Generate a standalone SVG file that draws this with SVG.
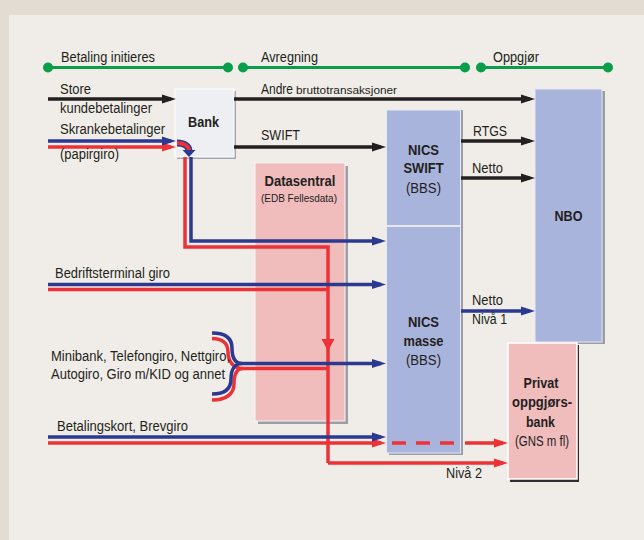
<svg xmlns="http://www.w3.org/2000/svg" width="644" height="540" viewBox="0 0 644 540">
<style>
text{font-family:"Liberation Sans",Arial,sans-serif;fill:#231f20;font-size:14px}
.b{font-weight:bold}
.s{font-size:11px}
.k{fill:none;stroke:#231f20;stroke-width:3.5}
.bl{fill:none;stroke:#2b3990;stroke-width:3.5}
.rd{fill:none;stroke:#ed3237;stroke-width:3.5}
.gr{fill:none;stroke:#0a9e4a;stroke-width:3}
.dot{fill:#0a9e4a}
.ka{marker-end:url(#ak)}
.ba{marker-end:url(#ab)}
.ra{marker-end:url(#ar)}
</style>
<defs>
<marker id="ak" markerUnits="userSpaceOnUse" markerWidth="14" markerHeight="10" refX="9" refY="5" orient="auto"><path d="M0,0.5 L14,5 L0,9.5 Z" fill="#231f20"/></marker>
<marker id="ab" markerUnits="userSpaceOnUse" markerWidth="14" markerHeight="10" refX="9" refY="5" orient="auto"><path d="M0,0.5 L14,5 L0,9.5 Z" fill="#2b3990"/></marker>
<marker id="ar" markerUnits="userSpaceOnUse" markerWidth="14" markerHeight="10" refX="9" refY="5" orient="auto"><path d="M0,0.5 L14,5 L0,9.5 Z" fill="#ed3237"/></marker>
</defs>
<rect x="0" y="0" width="644" height="540" fill="#e3dcd3"/>
<rect x="9" y="15" width="635" height="525" fill="#f0ede8"/>

<g id="phases">
<path class="gr" d="M48,67.5 H228 M243,67.5 H465 M481,67.5 H608"/>
<circle class="dot" cx="48" cy="67.5" r="5"/>
<circle class="dot" cx="228" cy="67.5" r="5"/>
<circle class="dot" cx="243" cy="67.5" r="5"/>
<circle class="dot" cx="465" cy="67.5" r="5"/>
<circle class="dot" cx="481" cy="67.5" r="5"/>
<circle class="dot" cx="608" cy="67.5" r="5"/>
<text x="61" y="62" textLength="94" lengthAdjust="spacingAndGlyphs">Betaling initieres</text>
<text x="261" y="62" textLength="57" lengthAdjust="spacingAndGlyphs">Avregning</text>
<text x="493" y="62" textLength="46" lengthAdjust="spacingAndGlyphs">Oppgjør</text>
</g>

<g id="datasentral">
<rect x="258" y="166" width="90" height="258" fill="#9c9ea6"/>
<rect x="255" y="163" width="90" height="258" fill="#f0bcbc" stroke="#f7f4f2" stroke-width="1"/>
<text class="b" x="300" y="186" text-anchor="middle" textLength="71" lengthAdjust="spacingAndGlyphs">Datasentral</text>
<text class="s" x="299" y="202" text-anchor="middle" textLength="76" lengthAdjust="spacingAndGlyphs">(EDB Fellesdata)</text>
</g>

<g id="bank">
<rect x="177" y="91" width="59" height="68" fill="#a3a6ae"/>
<rect x="175" y="89" width="59" height="68" fill="#eeeff2" stroke="#ffffff" stroke-width="1"/>
<text class="b" x="203.5" y="127" text-anchor="middle" textLength="31" lengthAdjust="spacingAndGlyphs">Bank</text>
</g>

<g id="nics">
<rect x="389" y="110" width="74" height="345" fill="#9c9ea6"/>
<rect x="386.5" y="110" width="74" height="343" fill="#a9b4dc" stroke="#e6e9f5" stroke-width="1"/>
<line x1="386.5" y1="226" x2="460.5" y2="226" stroke="#e6e9f5" stroke-width="2"/>
<text class="b" x="423.5" y="155" text-anchor="middle" textLength="31" lengthAdjust="spacingAndGlyphs">NICS</text>
<text class="b" x="423.5" y="173" text-anchor="middle" textLength="40" lengthAdjust="spacingAndGlyphs">SWIFT</text>
<text x="423.5" y="193" text-anchor="middle" textLength="35" lengthAdjust="spacingAndGlyphs">(BBS)</text>
<text class="b" x="423.5" y="327" text-anchor="middle" textLength="31" lengthAdjust="spacingAndGlyphs">NICS</text>
<text class="b" x="423.5" y="346" text-anchor="middle" textLength="40" lengthAdjust="spacingAndGlyphs">masse</text>
<text x="423.5" y="365" text-anchor="middle" textLength="35" lengthAdjust="spacingAndGlyphs">(BBS)</text>
</g>

<g id="nbo">
<rect x="538" y="91" width="67" height="253" fill="#9c9ea6"/>
<rect x="535" y="89" width="67" height="253" fill="#a9b4dc" stroke="#e6e9f5" stroke-width="1"/>
<text class="b" x="568.5" y="221" text-anchor="middle" textLength="28" lengthAdjust="spacingAndGlyphs">NBO</text>
</g>

<g id="privat">
<rect x="510" y="345" width="69" height="137" fill="#2e2e32"/>
<rect x="508" y="343" width="69" height="136" fill="#f0bcbc" stroke="#ffffff" stroke-width="1.5"/>
<text class="b" x="541" y="388" text-anchor="middle" textLength="35" lengthAdjust="spacingAndGlyphs">Privat</text>
<text class="b" x="542" y="407" text-anchor="middle" textLength="60" lengthAdjust="spacingAndGlyphs">oppgjørs-</text>
<text class="b" x="540.5" y="427" text-anchor="middle" textLength="29" lengthAdjust="spacingAndGlyphs">bank</text>
<text x="542" y="446" text-anchor="middle" textLength="54" lengthAdjust="spacingAndGlyphs">(GNS m fl)</text>
</g>

<g id="connectors">
<path class="k ka" d="M48,99 H171"/>
<path class="k ka" d="M234,99 H530"/>
<path class="k ka" d="M234,147 H381"/>
<path class="k ka" d="M461,141 H530"/>
<path class="k ka" d="M461,178 H530"/>

<path class="rd ra" d="M48,147 H171"/>
<path class="rd" d="M185,157 V247 H328 V463"/>
<path class="rd ra" d="M328,463 H503"/>
<path class="rd" d="M48,289.5 H328"/>
<path class="rd" d="M212,338.5 C222,338.5 228,343 228,352 C228,362 234,368.5 243,368.5 H328"/>
<path class="rd" d="M212,400 C226,400 234,394 234,384 C234,374 237,368.5 243,368.5"/>
<path class="rd ra" d="M48,443 H381"/>
<path class="rd" d="M392,443 H454" stroke-dasharray="14 10"/>
<path class="rd ra" d="M465,443 H503"/>
<polygon points="321.5,339 334.5,339 328,351" fill="#ed3237"/>

<path class="bl ba" d="M48,141 H171"/>
<path class="bl ba" d="M191,157 V241 H381"/>
<path class="bl ba" d="M48,284.5 H381"/>
<path class="bl" d="M212,333 C226,333 232,338 232,348 C232,357 235,363.5 242,363.5"/>
<path class="bl" d="M212,394 C225,394 231,389 231,379 C231,369 235,363.5 242,363.5"/>
<path class="bl ba" d="M242,363.5 H381"/>
<path class="bl ba" d="M48,437 H381"/>
<path class="bl ba" d="M461,311 H530"/>

<path d="M177,143 C184,143 189,146 189,151" fill="none" stroke="#2b3990" stroke-width="7"/>
<path d="M177,143 C184,143 189,146 189,151" fill="none" stroke="#ed3237" stroke-width="4"/>
<polygon points="182.5,150 195.5,150 189,157" fill="#2b3990"/>
</g>

<g id="labels">
<text x="60" y="94" textLength="31" lengthAdjust="spacingAndGlyphs">Store</text>
<text x="60" y="113" textLength="92" lengthAdjust="spacingAndGlyphs">kundebetalinger</text>
<text x="60" y="134" textLength="105" lengthAdjust="spacingAndGlyphs">Skrankebetalinger</text>
<text x="60" y="159" textLength="59" lengthAdjust="spacingAndGlyphs">(papirgiro)</text>
<text x="261" y="94"><tspan textLength="32" lengthAdjust="spacingAndGlyphs">Andre</tspan><tspan class="s" x="296" textLength="101" lengthAdjust="spacingAndGlyphs">bruttotransaksjoner</tspan></text>
<text x="261" y="140" textLength="39" lengthAdjust="spacingAndGlyphs">SWIFT</text>
<text x="473" y="136" textLength="34" lengthAdjust="spacingAndGlyphs">RTGS</text>
<text x="472" y="173" textLength="31" lengthAdjust="spacingAndGlyphs">Netto</text>
<text x="55" y="278" textLength="115" lengthAdjust="spacingAndGlyphs">Bedriftsterminal giro</text>
<text x="472" y="305" textLength="31" lengthAdjust="spacingAndGlyphs">Netto</text>
<text x="472" y="324" textLength="35" lengthAdjust="spacingAndGlyphs">Nivå 1</text>
<text x="51" y="361" textLength="179" lengthAdjust="spacingAndGlyphs">Minibank, Telefongiro, Nettgiro,</text>
<text x="51" y="379" textLength="174" lengthAdjust="spacingAndGlyphs">Autogiro, Giro m/KID og annet</text>
<text x="57" y="431" textLength="131" lengthAdjust="spacingAndGlyphs">Betalingskort, Brevgiro</text>
<text x="446" y="478" textLength="36" lengthAdjust="spacingAndGlyphs">Nivå 2</text>
</g>
</svg>
